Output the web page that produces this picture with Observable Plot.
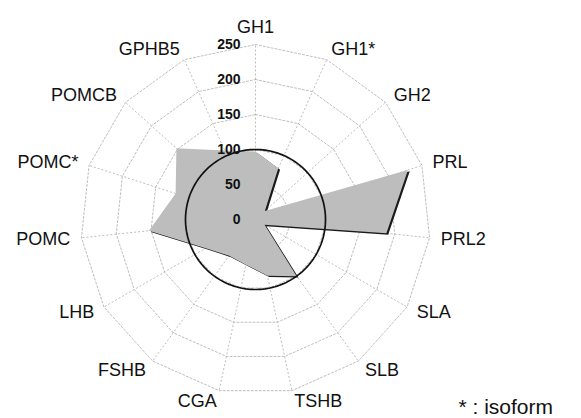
<!DOCTYPE html>
<html>
<head>
<meta charset="utf-8">
<script src="https://cdn.jsdelivr.net/npm/d3@7"></script>
<script src="https://cdn.jsdelivr.net/npm/@observablehq/plot@0.6"></script>
<style>
  html, body { margin: 0; padding: 0; background: #fff; }
  #chart svg { display: block; }
</style>
</head>
<body>
<div id="chart"></div>
<script>
// ---- data ----
const categories = ["GH1","GH1*","GH2","PRL","PRL2","SLA","SLB","TSHB","CGA","FSHB","LHB","POMC","POMC*","POMCB","GPHB5"];
const values = [97, 80, 18, 229, 188, 15, 100, 82, 66, 64, 82, 153, 120, 152, 108];
const radialTicks = [0, 50, 100, 150, 200, 250];
const gridRings = [50, 100, 150, 200, 250];
const referenceRing = 100;
const maxValue = 250;
const labelRadius = 266;
const noteText = "* : isoform";

// ---- geometry helpers (data -> polar data space) ----
const W = 581, H = 418;
const cx = 255, cy = 219, k = 0.7; // centre and pixels per unit
const n = categories.length;
const ang = i => (2 * Math.PI * i) / n;
const px = (v, a) => v * Math.sin(a);
const py = (v, a) => v * Math.cos(a);

const poly = values.map((v, i) => ({x: px(v, ang(i)), y: py(v, ang(i))}));
poly.push(poly[0]);

const ringPts = [];
for (const r of gridRings) {
  for (let i = 0; i <= n; i++) ringPts.push({ring: r, x: px(r, ang(i % n)), y: py(r, ang(i % n))});
}

const circlePts = d3.range(0, 361, 2).map(deg => {
  const a = deg * Math.PI / 180;
  return {x: px(referenceRing, a), y: py(referenceRing, a)};
});

const labels = categories.map((c, i) => {
  const a = ang(i), s = Math.sin(a);
  return {
    name: c,
    x: px(labelRadius, a), y: py(labelRadius, a),
    anchor: Math.abs(s) < 0.05 ? "middle" : (s > 0 ? "start" : "end")
  };
});

const font = "'Liberation Sans', Arial, Helvetica, sans-serif";
const gridStyle = {stroke: "#b5b5b5", strokeWidth: 0.9, strokeDasharray: "2,2"};
const labelStyle = {x: "x", y: "y", text: "name", fontSize: 18, fill: "#111"};

const chart = Plot.plot({
  width: W,
  height: H,
  margin: 0,
  style: {fontFamily: font, background: "#fff", overflow: "visible"},
  x: {domain: [-cx / k, (W - cx) / k], range: [0, W], axis: null},
  y: {domain: [-(H - cy) / k, cy / k], range: [H, 0], axis: null},
  marks: [
    // spokes
    Plot.link(categories, {
      x1: 0, y1: 0,
      x2: (d, i) => px(maxValue, ang(i)),
      y2: (d, i) => py(maxValue, ang(i)),
      ...gridStyle
    }),
    // polygon rings
    Plot.line(ringPts, {x: "x", y: "y", z: "ring", ...gridStyle}),
    // drop shadow
    Plot.line(poly, {x: "x", y: "y", fill: "#1a1a1a", stroke: "none", dx: 1.8, dy: 1.4}),
    // filled series
    Plot.line(poly, {x: "x", y: "y", fill: "#bdbdbd", stroke: "none"}),
    // reference circle at 100
    Plot.line(circlePts, {x: "x", y: "y", stroke: "#111", strokeWidth: 1.7}),
    // radial tick labels
    Plot.text(radialTicks, {
      x: 0, y: d => d, text: d => String(d),
      textAnchor: "end", dx: -15, fontWeight: "bold", fontSize: 14, fill: "#111"
    }),
    // category labels
    Plot.text(labels.filter(d => d.anchor === "start"), {...labelStyle, textAnchor: "start"}),
    Plot.text(labels.filter(d => d.anchor === "end"), {...labelStyle, textAnchor: "end"}),
    Plot.text(labels.filter(d => d.anchor === "middle"), {...labelStyle, textAnchor: "middle", lineAnchor: "bottom"}),
    // note
    Plot.text([noteText], {
      frameAnchor: "bottom-left", text: d => d, textAnchor: "start", lineAnchor: "bottom",
      dx: 458, dy: -5, fontSize: 21, fill: "#111"
    })
  ]
});

document.getElementById("chart").appendChild(chart);
</script>
</body>
</html>
